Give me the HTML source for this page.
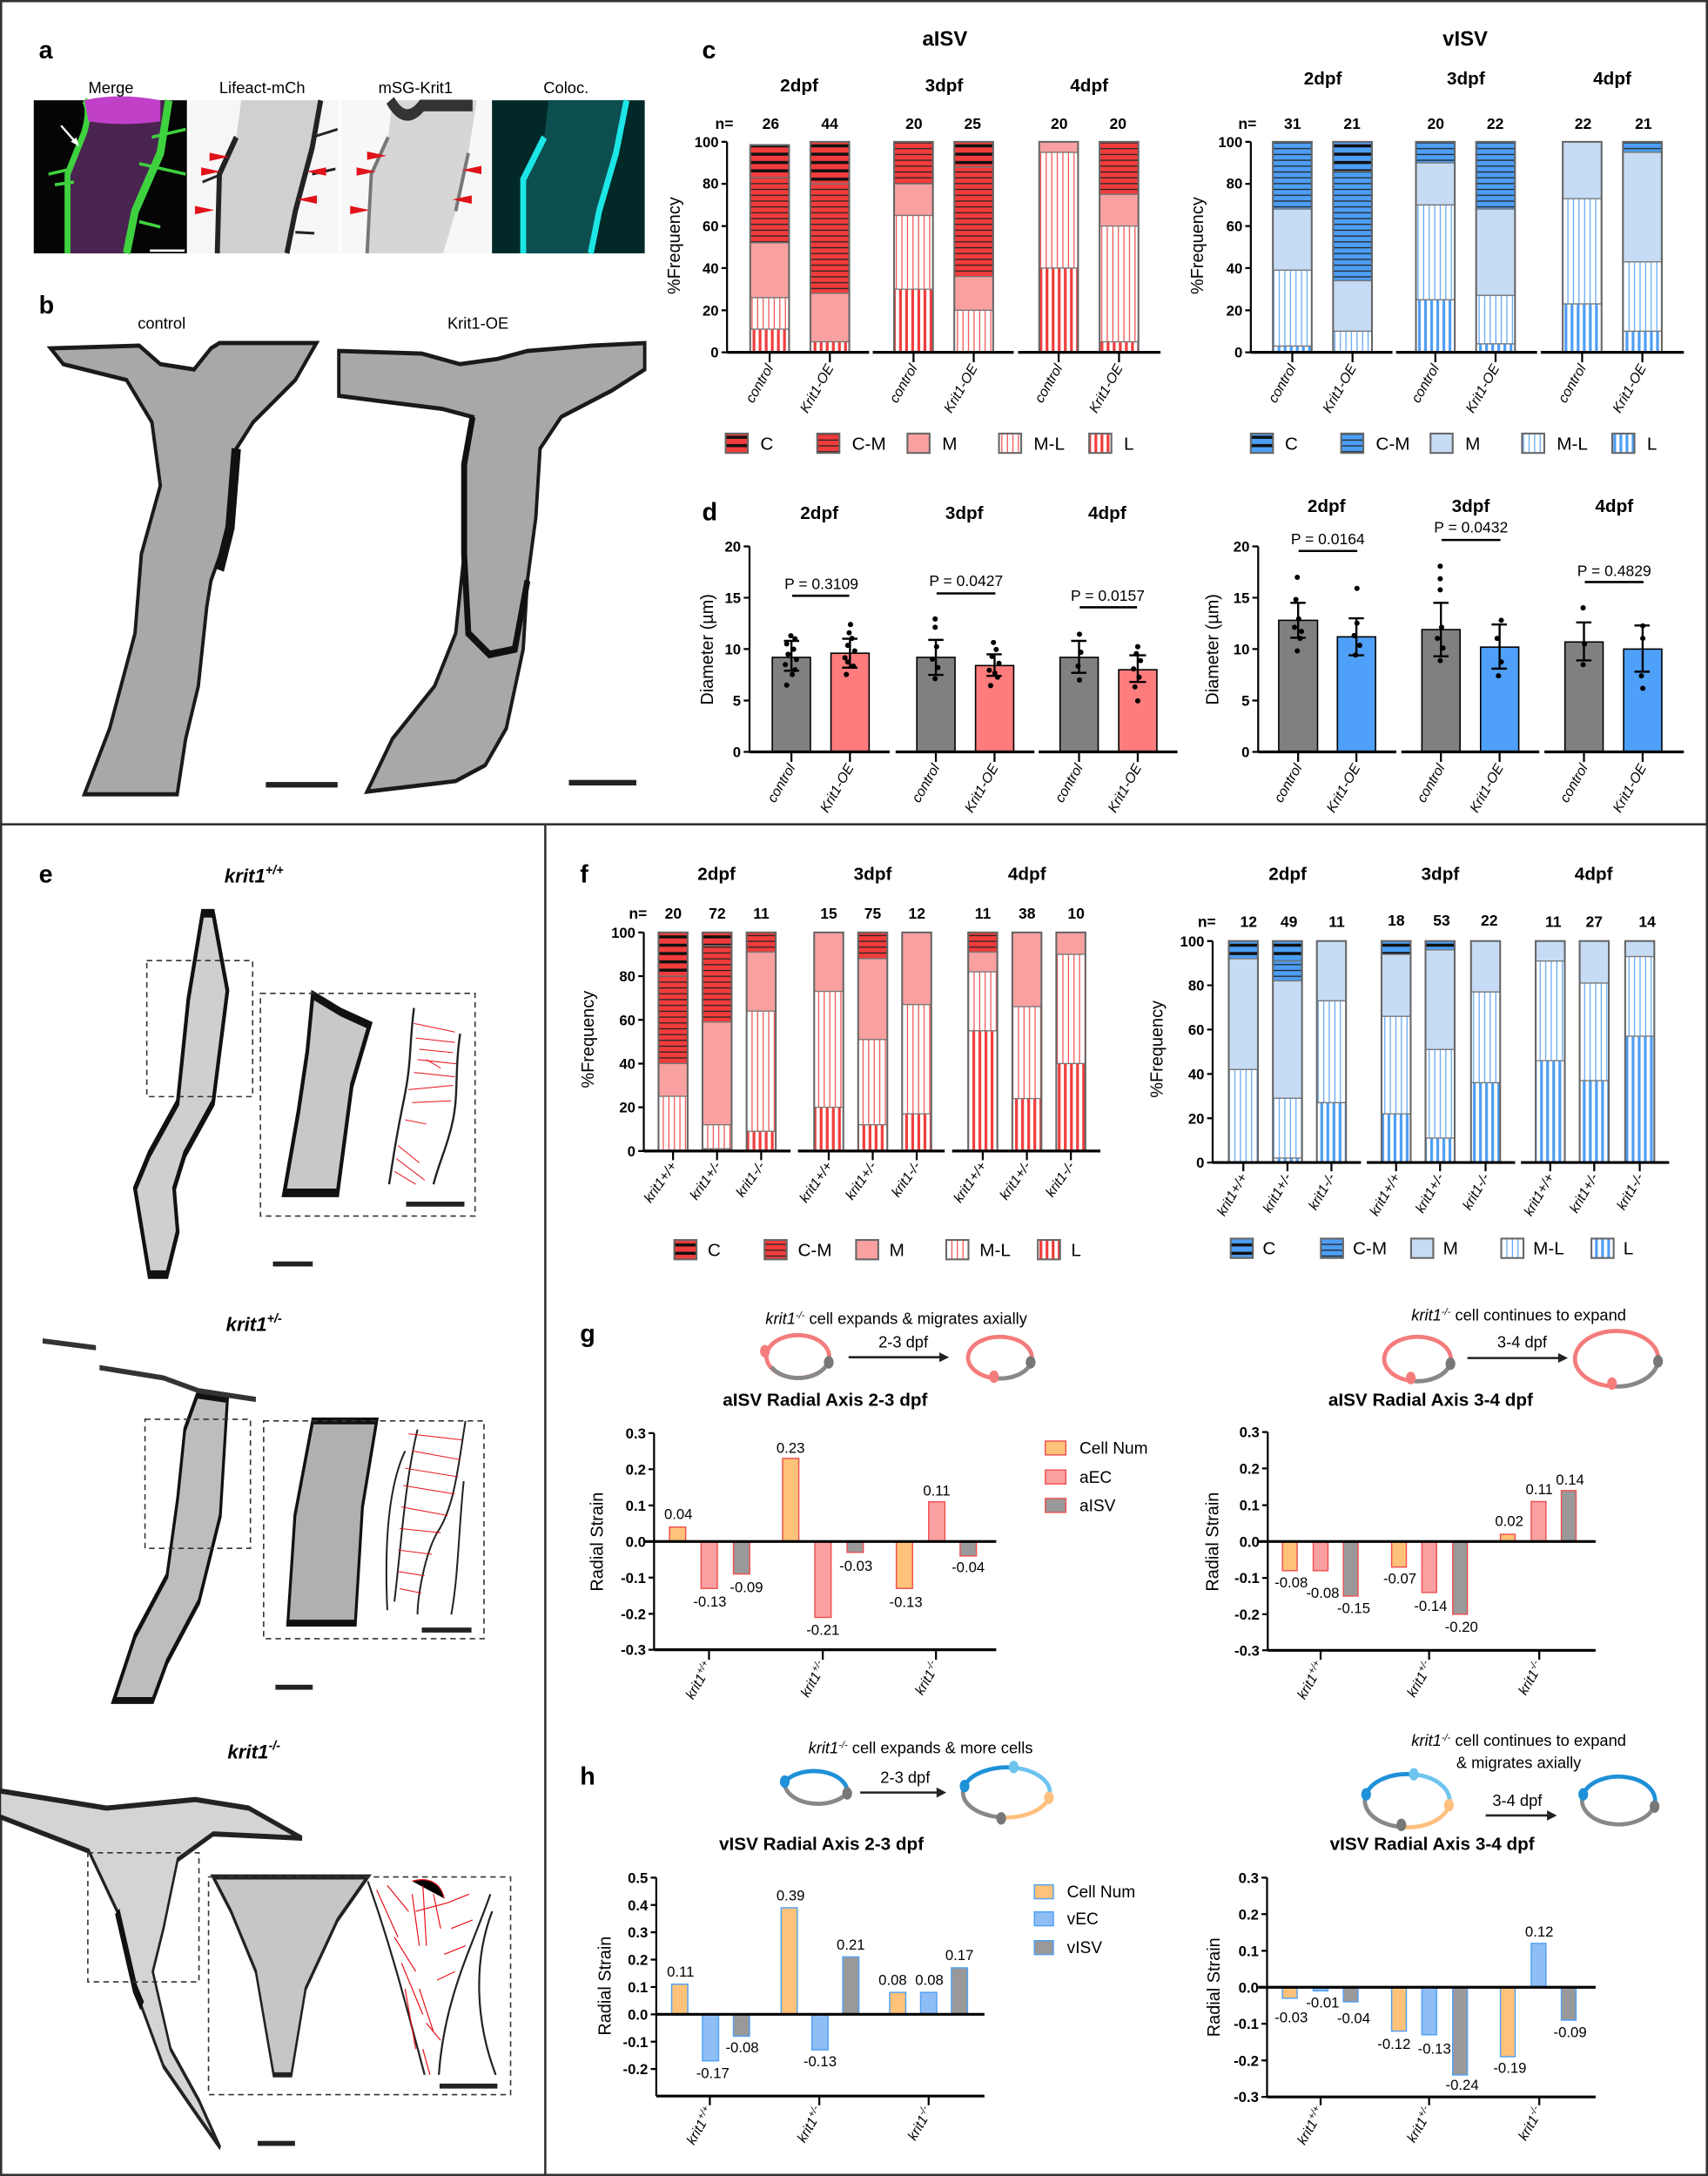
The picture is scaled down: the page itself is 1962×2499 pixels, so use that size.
<!DOCTYPE html>
<html><head><meta charset="utf-8"><style>html,body{margin:0;padding:0;background:#fff}svg{display:block}text{font-family:"Liberation Sans",Arial,sans-serif}</style></head><body>
<svg xmlns="http://www.w3.org/2000/svg" width="1962" height="2499" viewBox="0 0 1231 1568" preserveAspectRatio="none">
<defs>
<pattern id="rC" width="6" height="6" patternUnits="userSpaceOnUse"><rect width="6" height="6" fill="#f23c3c"/><rect y="2" width="6" height="2.2" fill="#111"/></pattern>
<pattern id="rCM" width="6" height="4.2" patternUnits="userSpaceOnUse"><rect width="6" height="4.2" fill="#f23c3c"/><rect y="1.7" width="6" height="0.8" fill="#222"/></pattern>
<pattern id="rML" width="4" height="6" patternUnits="userSpaceOnUse"><rect width="4" height="6" fill="#fff"/><rect x="1.7" width="0.7" height="6" fill="#f23c3c"/></pattern>
<pattern id="rL" width="4.4" height="6" patternUnits="userSpaceOnUse"><rect width="4.4" height="6" fill="#fff"/><rect x="1.2" width="2" height="6" fill="#f23c3c"/></pattern>
<pattern id="bC" width="6" height="6" patternUnits="userSpaceOnUse"><rect width="6" height="6" fill="#4d9ef5"/><rect y="2" width="6" height="2.2" fill="#111"/></pattern>
<pattern id="bCM" width="6" height="4.2" patternUnits="userSpaceOnUse"><rect width="6" height="4.2" fill="#4d9ef5"/><rect y="1.7" width="6" height="0.8" fill="#222"/></pattern>
<pattern id="bML" width="4" height="6" patternUnits="userSpaceOnUse"><rect width="4" height="6" fill="#fff"/><rect x="1.7" width="0.7" height="6" fill="#4d9ef5"/></pattern>
<pattern id="bL" width="4.4" height="6" patternUnits="userSpaceOnUse"><rect width="4.4" height="6" fill="#fff"/><rect x="1.2" width="2" height="6" fill="#4d9ef5"/></pattern>
</defs>
<rect width="1231" height="1568" fill="#fff"/>
<rect x="0.8" y="0.8" width="1229.4" height="1566.4" fill="none" stroke="#333" stroke-width="1.6"/>
<line x1="0" y1="594" x2="1231" y2="594" stroke="#333" stroke-width="1.6"/>
<line x1="393" y1="594" x2="393" y2="1568" stroke="#333" stroke-width="1.6"/>

<!-- panel a -->
<text x="28" y="42" font-size="18" font-weight="bold">a</text>
<g font-size="11.5" text-anchor="middle"><text x="80" y="67">Merge</text><text x="189" y="67">Lifeact-mCh</text><text x="299.5" y="67">mSG-Krit1</text><text x="408" y="67">Coloc.</text></g>
<g transform="scale(0.3041,0.3803)">
<rect x="80" y="190" width="363" height="290" fill="#050505"/>
<path d="M205,190 L200,250 L160,330 L160,480 L300,480 L320,400 L380,290 L400,190Z" fill="#4a2450"/>
<path d="M200,190 Q215,205 200,250 L160,330 L160,480" fill="none" stroke="#3fd23f" stroke-width="14"/>
<path d="M400,190 L380,290 L320,400 L300,480" fill="none" stroke="#3fd23f" stroke-width="18"/>
<path d="M200,190 Q280,175 380,190 L380,230 Q290,240 210,230Z" fill="#c040c8"/>
<path d="M115,330 L170,320 M130,350 L175,345 M330,310 L440,330 M330,420 L380,430 M360,260 L440,245" stroke="#3fd23f" stroke-width="6"/>
<rect x="447" y="190" width="356" height="290" fill="#f6f6f6"/>
<path d="M572,190 L560,260 L520,330 L515,480 L680,480 L700,400 L740,280 L760,190Z" fill="#d0d0d0"/>
<path d="M560,260 L520,330 L515,480 M760,190 L740,280 L700,400 L680,480" fill="none" stroke="#222" stroke-width="12"/>
<path d="M740,260 L800,245 M740,330 L795,320 M700,440 L745,442 M480,345 L525,330" stroke="#222" stroke-width="5"/>
<rect x="808" y="190" width="355" height="290" fill="#f7f7f7"/>
<path d="M930,190 L920,260 L880,330 L870,480 L1050,480 L1080,400 L1110,290 L1130,190Z" fill="#d6d6d6"/>
<path d="M925,190 Q960,240 1000,200 L1120,200" fill="none" stroke="#333" stroke-width="22"/>
<path d="M920,260 L880,330 L870,480 M1110,290 L1080,400" fill="none" stroke="#777" stroke-width="8"/>
<rect x="1166" y="190" width="362" height="290" fill="#032828"/>
<path d="M1300,190 L1290,260 L1240,340 L1240,480 L1400,480 L1420,400 L1460,290 L1485,190Z" fill="#0d4f50"/>
<path d="M1290,260 L1240,340 L1240,480 M1485,190 L1460,290 L1420,400 L1400,480" fill="none" stroke="#1de6e6" stroke-width="14"/>
</g>
<line x1="108" y1="180.6" x2="133" y2="180.6" stroke="#fff" stroke-width="1.6"/>
<line x1="44" y1="90.5" x2="55" y2="103" stroke="#fff" stroke-width="1.5"/><polygon points="57,105.5 51,102 55,99" fill="#fff"/>
<g fill="#e0121a">
<polygon points="151,110 165,113 151,116"/><polygon points="145,120.6 159,123.6 145,126.6"/><polygon points="140.5,148.4 154.5,151.4 140.5,154.4"/>
<polygon points="235,120.6 221,123.6 235,126.6"/><polygon points="228.4,140.8 214.4,143.8 228.4,146.8"/>
<polygon points="264.6,109.2 278.6,112.2 264.6,115.2"/><polygon points="257,120.6 271,123.6 257,126.6"/><polygon points="252.4,148.4 266.4,151.4 252.4,154.4"/>
<polygon points="347,119.5 333,122.5 347,125.5"/><polygon points="340,140.8 326,143.8 340,146.8"/>
</g>

<!-- panel b -->
<text x="28" y="226" font-size="18" font-weight="bold">b</text>
<text x="116.5" y="237" font-size="11.5" text-anchor="middle">control</text>
<text x="344.5" y="237" font-size="11.5" text-anchor="middle">Krit1-OE</text>
<g transform="scale(0.3041,0.3803)">
<path d="M120,660 L330,655 L380,690 L460,700 L500,660 L520,650 L750,650 L700,720 L600,800 L560,850 L545,1000 L500,1100 L490,1150 L470,1300 L440,1400 L420,1505 L200,1505 L260,1380 L320,1200 L335,1050 L380,920 L360,800 L300,720 L150,690Z" fill="#a8a8a8" stroke="#1a1a1a" stroke-width="8"/>
<path d="M560,850 L545,1000 L520,1080" fill="none" stroke="#111" stroke-width="22"/>
<path d="M803,665 L1000,670 L1090,690 L1180,680 L1250,665 L1400,655 L1528,650 L1528,700 L1450,740 L1330,790 L1280,850 L1270,980 L1250,1100 L1240,1230 L1200,1380 L1150,1450 L1080,1480 L870,1500 L930,1400 L1030,1300 L1080,1200 L1100,1050 L1100,880 L1120,790 L1050,775 L900,760 L803,750Z" fill="#a8a8a8" stroke="#1a1a1a" stroke-width="8"/>
<path d="M1120,790 L1100,880 L1100,1050 L1110,1200 L1160,1240 L1220,1230 L1250,1100" fill="none" stroke="#111" stroke-width="14"/>
</g>
<rect x="191.6" y="563.5" width="51.7" height="4" fill="#222"/>
<rect x="410" y="562" width="48.6" height="4" fill="#222"/>

<!-- panel c -->
<text x="506" y="42" font-size="18" font-weight="bold">c</text>
<text x="681" y="33" font-size="15" font-weight="bold" text-anchor="middle">aISV</text>
<text x="1056" y="33" font-size="15" font-weight="bold" text-anchor="middle">vISV</text>
<g font-size="13" font-weight="bold" text-anchor="middle">
<text x="576" y="66">2dpf</text><text x="680.4" y="66">3dpf</text><text x="785" y="66">4dpf</text>
<text x="953.4" y="61">2dpf</text><text x="1056.5" y="61">3dpf</text><text x="1162" y="61">4dpf</text>
</g>
<g font-size="11" font-weight="bold" text-anchor="middle">
<text x="522" y="93">n=</text><text x="555.5" y="93">26</text><text x="598" y="93">44</text><text x="658.7" y="93">20</text><text x="701" y="93">25</text><text x="763.4" y="93">20</text><text x="805.8" y="93">20</text>
<text x="899" y="93">n=</text><text x="931.6" y="93">31</text><text x="974.5" y="93">21</text><text x="1034.8" y="93">20</text><text x="1077.7" y="93">22</text><text x="1141" y="93">22</text><text x="1184.5" y="93">21</text>
</g>
<g stroke="#777" stroke-width="0.8">
<rect x="540.7" y="104.5" width="28" height="23.5" fill="url(#rC)"/><rect x="540.7" y="128" width="28" height="47" fill="url(#rCM)"/><rect x="540.7" y="175" width="28" height="39.5" fill="#f9a0a0"/><rect x="540.7" y="214.5" width="28" height="22.7" fill="url(#rML)"/><rect x="540.7" y="237.2" width="28" height="16.7" fill="url(#rL)"/>
<rect x="584.1" y="102.2" width="28" height="30.3" fill="url(#rC)"/><rect x="584.1" y="132.5" width="28" height="78.9" fill="url(#rCM)"/><rect x="584.1" y="211.4" width="28" height="34.9" fill="#f9a0a0"/><rect x="584.1" y="246.3" width="28" height="7.6" fill="url(#rL)"/>
<rect x="644.4" y="102.2" width="28" height="30.3" fill="url(#rCM)"/><rect x="644.4" y="132.5" width="28" height="22.8" fill="#f9a0a0"/><rect x="644.4" y="155.3" width="28" height="53.1" fill="url(#rML)"/><rect x="644.4" y="208.4" width="28" height="45.5" fill="url(#rL)"/>
<rect x="687.8" y="102.2" width="28" height="18.2" fill="url(#rC)"/><rect x="687.8" y="120.4" width="28" height="78.9" fill="url(#rCM)"/><rect x="687.8" y="199.3" width="28" height="24.3" fill="#f9a0a0"/><rect x="687.8" y="223.6" width="28" height="30.3" fill="url(#rML)"/>
<rect x="749" y="102.2" width="28" height="7.6" fill="#f9a0a0"/><rect x="749" y="109.8" width="28" height="83.4" fill="url(#rML)"/><rect x="749" y="193.2" width="28" height="60.7" fill="url(#rL)"/>
<rect x="792.5" y="102.2" width="28" height="37.9" fill="url(#rCM)"/><rect x="792.5" y="140.1" width="28" height="22.8" fill="#f9a0a0"/><rect x="792.5" y="162.9" width="28" height="83.4" fill="url(#rML)"/><rect x="792.5" y="246.3" width="28" height="7.6" fill="url(#rL)"/>
<rect x="917.4" y="102.2" width="28" height="48.5" fill="url(#bCM)"/><rect x="917.4" y="150.7" width="28" height="44" fill="#c6dbf4"/><rect x="917.4" y="194.7" width="28" height="54.7" fill="url(#bML)"/><rect x="917.4" y="249.4" width="28" height="4.5" fill="url(#bL)"/>
<rect x="960.8" y="102.2" width="28" height="21.2" fill="url(#bC)"/><rect x="960.8" y="123.4" width="28" height="78.9" fill="url(#bCM)"/><rect x="960.8" y="202.3" width="28" height="36.4" fill="#c6dbf4"/><rect x="960.8" y="238.7" width="28" height="15.2" fill="url(#bML)"/>
<rect x="1020.5" y="102.2" width="28" height="15.2" fill="url(#bCM)"/><rect x="1020.5" y="117.4" width="28" height="30.3" fill="#c6dbf4"/><rect x="1020.5" y="147.7" width="28" height="68.3" fill="url(#bML)"/><rect x="1020.5" y="216" width="28" height="37.9" fill="url(#bL)"/>
<rect x="1063.9" y="102.2" width="28" height="48.5" fill="url(#bCM)"/><rect x="1063.9" y="150.7" width="28" height="62.2" fill="#c6dbf4"/><rect x="1063.9" y="212.9" width="28" height="34.9" fill="url(#bML)"/><rect x="1063.9" y="247.8" width="28" height="6.1" fill="url(#bL)"/>
<rect x="1126.3" y="102.2" width="28" height="41" fill="#c6dbf4"/><rect x="1126.3" y="143.2" width="28" height="75.8" fill="url(#bML)"/><rect x="1126.3" y="219" width="28" height="34.9" fill="url(#bL)"/>
<rect x="1169.7" y="102.2" width="28" height="7.6" fill="url(#bCM)"/><rect x="1169.7" y="109.8" width="28" height="78.9" fill="#c6dbf4"/><rect x="1169.7" y="188.7" width="28" height="50" fill="url(#bML)"/><rect x="1169.7" y="238.7" width="28" height="15.2" fill="url(#bL)"/>
</g>
<g fill="none" stroke="#666" stroke-width="1.3">
<rect x="540.7" y="104.5" width="28" height="149.4"/><rect x="584.1" y="102.2" width="28" height="151.7"/><rect x="644.4" y="102.2" width="28" height="151.7"/><rect x="687.8" y="102.2" width="28" height="151.7"/><rect x="749" y="102.2" width="28" height="151.7"/><rect x="792.5" y="102.2" width="28" height="151.7"/>
<rect x="917.4" y="102.2" width="28" height="151.7"/><rect x="960.8" y="102.2" width="28" height="151.7"/><rect x="1020.5" y="102.2" width="28" height="151.7"/><rect x="1063.9" y="102.2" width="28" height="151.7"/><rect x="1126.3" y="102.2" width="28" height="151.7"/><rect x="1169.7" y="102.2" width="28" height="151.7"/>
</g>
<g stroke="#000" stroke-width="1.4" fill="none">
<path d="M524,102.2V253.9 M520,102.2H524 M520,132.5H524 M520,162.9H524 M520,193.2H524 M520,223.6H524 M520,253.9H524"/>
<path d="M901.5,102.2V253.9 M897.5,102.2H901.5 M897.5,132.5H901.5 M897.5,162.9H901.5 M897.5,193.2H901.5 M897.5,223.6H901.5 M897.5,253.9H901.5"/>
<path stroke-width="2" d="M524,253.9H626.4 M629,253.9H730.6 M733.8,253.9H836.4 M901.5,253.9H1003.6 M1006.2,253.9H1107.8 M1110.5,253.9H1213.6"/>
<path d="M554.7,254V261 M598.1,254V261 M658.4,254V261 M701.8,254V261 M763,254V261 M806.5,254V261 M931.4,254V261 M974.8,254V261 M1034.5,254V261 M1077.9,254V261 M1140.3,254V261 M1183.7,254V261"/>
</g>
<g font-size="10.5" font-weight="bold" text-anchor="end">
<text x="518" y="106">100</text><text x="518" y="136">80</text><text x="518" y="166.5">60</text><text x="518" y="197">40</text><text x="518" y="227.5">20</text><text x="518" y="257.5">0</text>
<text x="895.5" y="106">100</text><text x="895.5" y="136">80</text><text x="895.5" y="166.5">60</text><text x="895.5" y="197">40</text><text x="895.5" y="227.5">20</text><text x="895.5" y="257.5">0</text>
</g>
<text transform="translate(490,177) rotate(-90)" font-size="12.5" text-anchor="middle">%Frequency</text>
<text transform="translate(867,177) rotate(-90)" font-size="12.5" text-anchor="middle">%Frequency</text>
<g font-size="10" font-style="italic" text-anchor="end">
<text transform="translate(557.7,265) rotate(-60)">control</text><text transform="translate(601.1,265) rotate(-60)">Krit1-OE</text>
<text transform="translate(661.4,265) rotate(-60)">control</text><text transform="translate(704.8,265) rotate(-60)">Krit1-OE</text>
<text transform="translate(766,265) rotate(-60)">control</text><text transform="translate(809.5,265) rotate(-60)">Krit1-OE</text>
<text transform="translate(934.4,265) rotate(-60)">control</text><text transform="translate(977.8,265) rotate(-60)">Krit1-OE</text>
<text transform="translate(1037.5,265) rotate(-60)">control</text><text transform="translate(1080.9,265) rotate(-60)">Krit1-OE</text>
<text transform="translate(1143.3,265) rotate(-60)">control</text><text transform="translate(1186.7,265) rotate(-60)">Krit1-OE</text>
</g>
<g stroke="#666" stroke-width="1.3">
<rect x="523" y="312.4" width="16" height="14" fill="url(#rC)"/><rect x="589" y="312.4" width="16" height="14" fill="url(#rCM)"/><rect x="654" y="312.4" width="16" height="14" fill="#f9a0a0"/><rect x="720" y="312.4" width="16" height="14" fill="url(#rML)"/><rect x="785" y="312.4" width="16" height="14" fill="url(#rL)"/>
<rect x="901.5" y="312.4" width="16" height="14" fill="url(#bC)"/><rect x="966.6" y="312.4" width="16" height="14" fill="url(#bCM)"/><rect x="1031" y="312.4" width="16" height="14" fill="#c6dbf4"/><rect x="1097" y="312.4" width="16" height="14" fill="url(#bML)"/><rect x="1162" y="312.4" width="16" height="14" fill="url(#bL)"/>
</g>
<g font-size="13">
<text x="548" y="324">C</text><text x="614" y="324">C-M</text><text x="679" y="324">M</text><text x="745" y="324">M-L</text><text x="810" y="324">L</text>
<text x="926" y="324">C</text><text x="991.6" y="324">C-M</text><text x="1056" y="324">M</text><text x="1122" y="324">M-L</text><text x="1187" y="324">L</text>
</g>

<!-- panel d -->
<text x="506" y="375" font-size="18" font-weight="bold">d</text>
<g font-size="13" font-weight="bold" text-anchor="middle">
<text x="590.5" y="374">2dpf</text><text x="695" y="374">3dpf</text><text x="798" y="374">4dpf</text>
<text x="956" y="369">2dpf</text><text x="1060" y="369">3dpf</text><text x="1163.4" y="369">4dpf</text>
</g>
<g font-size="11" text-anchor="middle">
<text x="592" y="424.5">P = 0.3109</text><text x="696.3" y="422.4">P = 0.0427</text><text x="798.4" y="432.9">P = 0.0157</text>
<text x="957" y="392.1">P = 0.0164</text><text x="1060.2" y="383.7">P = 0.0432</text><text x="1163.4" y="415.1">P = 0.4829</text>
</g>
<g stroke="#000" stroke-width="1.6">
<line x1="570.9" y1="429.3" x2="612.1" y2="429.3"/><line x1="675" y1="427.6" x2="717.4" y2="427.6"/><line x1="778.2" y1="437.6" x2="819.5" y2="437.6"/>
<line x1="935.9" y1="397" x2="978.2" y2="397"/><line x1="1039" y1="389.1" x2="1081.4" y2="389.1"/><line x1="1142.2" y1="419.4" x2="1184.5" y2="419.4"/>
</g>
<g stroke="#000" stroke-width="1">
<rect x="556.6" y="473.7" width="27.5" height="68.1" fill="#808080"/><rect x="598.9" y="470.7" width="27.5" height="71.1" fill="#ff7c7c"/>
<rect x="660.8" y="473.7" width="27.5" height="68.1" fill="#808080"/><rect x="703.1" y="479.6" width="27.5" height="62.2" fill="#ff7c7c"/>
<rect x="764" y="473.7" width="27.5" height="68.1" fill="#808080"/><rect x="806.3" y="482.6" width="27.5" height="59.2" fill="#ff7c7c"/>
<rect x="921.6" y="447" width="28" height="94.8" fill="#808080"/><rect x="963.9" y="458.9" width="27.5" height="82.9" fill="#4fa0f8"/>
<rect x="1024.8" y="453.7" width="27.5" height="88.1" fill="#808080"/><rect x="1067.1" y="466.3" width="27.5" height="75.5" fill="#4fa0f8"/>
<rect x="1127.9" y="462.6" width="27.5" height="79.2" fill="#808080"/><rect x="1170.2" y="467.7" width="27.5" height="74.1" fill="#4fa0f8"/>
</g>
<g fill="#000">
<circle cx="567" cy="493.7" r="1.9"/><circle cx="573" cy="482.6" r="1.9"/><circle cx="566" cy="478.9" r="1.9"/><circle cx="574" cy="475.2" r="1.9"/><circle cx="568" cy="471.5" r="1.9"/><circle cx="572" cy="467.8" r="1.9"/><circle cx="567" cy="464" r="1.9"/><circle cx="573" cy="460.3" r="1.9"/><circle cx="570" cy="458.1" r="1.9"/><circle cx="571" cy="486" r="1.9"/>
<circle cx="610" cy="486" r="1.9"/><circle cx="615" cy="480" r="1.9"/><circle cx="609" cy="474" r="1.9"/><circle cx="616" cy="469" r="1.9"/><circle cx="611" cy="465" r="1.9"/><circle cx="614" cy="460" r="1.9"/><circle cx="612" cy="456" r="1.9"/><circle cx="613" cy="450" r="1.9"/><circle cx="611" cy="477" r="1.9"/>
<circle cx="674" cy="489" r="1.9"/><circle cx="676" cy="481" r="1.9"/><circle cx="672" cy="475" r="1.9"/><circle cx="675" cy="466" r="1.9"/><circle cx="674" cy="452" r="1.9"/><circle cx="674" cy="446" r="1.9"/>
<circle cx="714" cy="494" r="1.9"/><circle cx="719" cy="488" r="1.9"/><circle cx="713" cy="483" r="1.9"/><circle cx="720" cy="478" r="1.9"/><circle cx="715" cy="473" r="1.9"/><circle cx="718" cy="468" r="1.9"/><circle cx="716" cy="463" r="1.9"/><circle cx="717" cy="485" r="1.9"/>
<circle cx="778" cy="490" r="1.9"/><circle cx="777" cy="480" r="1.9"/><circle cx="779" cy="470" r="1.9"/><circle cx="778" cy="457" r="1.9"/>
<circle cx="820" cy="505" r="1.9"/><circle cx="818" cy="495" r="1.9"/><circle cx="821" cy="488" r="1.9"/><circle cx="817" cy="482" r="1.9"/><circle cx="822" cy="476" r="1.9"/><circle cx="819" cy="471" r="1.9"/><circle cx="820" cy="466" r="1.9"/>
<circle cx="935" cy="469" r="1.9"/><circle cx="937" cy="460" r="1.9"/><circle cx="933" cy="452" r="1.9"/><circle cx="936" cy="446" r="1.9"/><circle cx="934" cy="432" r="1.9"/><circle cx="935" cy="416" r="1.9"/><circle cx="938" cy="455" r="1.9"/>
<circle cx="977" cy="472" r="1.9"/><circle cx="980" cy="465" r="1.9"/><circle cx="976" cy="458" r="1.9"/><circle cx="978" cy="449" r="1.9"/><circle cx="978" cy="424" r="1.9"/>
<circle cx="1038" cy="476" r="1.9"/><circle cx="1040" cy="467" r="1.9"/><circle cx="1036" cy="460" r="1.9"/><circle cx="1039" cy="452" r="1.9"/><circle cx="1038" cy="425" r="1.9"/><circle cx="1038" cy="417" r="1.9"/><circle cx="1038" cy="408" r="1.9"/>
<circle cx="1080" cy="487" r="1.9"/><circle cx="1082" cy="477" r="1.9"/><circle cx="1079" cy="460" r="1.9"/><circle cx="1082" cy="447" r="1.9"/>
<circle cx="1141" cy="479" r="1.9"/><circle cx="1142" cy="464" r="1.9"/><circle cx="1141" cy="438" r="1.9"/>
<circle cx="1184" cy="496" r="1.9"/><circle cx="1183" cy="487" r="1.9"/><circle cx="1184" cy="460" r="1.9"/><circle cx="1184" cy="451" r="1.9"/>
</g>
<g stroke="#000" stroke-width="1.5" fill="none">
<path d="M570.4,483.3V461.8 M565,483.3H576 M565,461.8H576"/><path d="M612.6,481.1V460.3 M607,481.1H618 M607,460.3H618"/>
<path d="M674.5,486.3V461.1 M669,486.3H680 M669,461.1H680"/><path d="M716.8,487V471.5 M711,487H722 M711,471.5H722"/>
<path d="M777.7,484.8V461.8 M772,484.8H783 M772,461.8H783"/><path d="M820,491.4V472.2 M814,491.4H826 M814,472.2H826"/>
<path d="M935.6,459.6V434.4 M930,459.6H941 M930,434.4H941"/><path d="M977.6,472.2V445.5 M972,472.2H983 M972,445.5H983"/>
<path d="M1038.5,472.9V434.4 M1033,472.9H1044 M1033,434.4H1044"/><path d="M1080.8,481.8V450 M1075,481.8H1086 M1075,450H1086"/>
<path d="M1141.6,475.9V448.5 M1136,475.9H1147 M1136,448.5H1147"/><path d="M1183.9,484V450.7 M1178,484H1189 M1178,450.7H1189"/>
</g>
<g stroke="#000" stroke-width="1.4" fill="none">
<path d="M540.2,393.7V541.8 M536,393.7H540.2 M536,430.7H540.2 M536,467.7H540.2 M536,504.8H540.2 M536,541.8H540.2"/>
<path d="M906.8,393.7V541.8 M902.6,393.7H906.8 M902.6,430.7H906.8 M902.6,467.7H906.8 M902.6,504.8H906.8 M902.6,541.8H906.8"/>
<path stroke-width="2" d="M540.2,541.8H641.2 M645.5,541.8H745.5 M748.6,541.8H848.6 M906.8,541.8H1006.3 M1010,541.8H1109.4 M1113.1,541.8H1213.6"/>
<path d="M570.4,542V549 M612.6,542V549 M674.5,542V549 M716.8,542V549 M777.7,542V549 M820,542V549 M935.6,542V549 M977.6,542V549 M1038.5,542V549 M1080.8,542V549 M1141.6,542V549 M1183.9,542V549"/>
</g>
<g font-size="10.5" font-weight="bold" text-anchor="end">
<text x="534" y="397.5">20</text><text x="534" y="434.5">15</text><text x="534" y="471.5">10</text><text x="534" y="508.6">5</text><text x="534" y="545.6">0</text>
<text x="900.6" y="397.5">20</text><text x="900.6" y="434.5">15</text><text x="900.6" y="471.5">10</text><text x="900.6" y="508.6">5</text><text x="900.6" y="545.6">0</text>
</g>
<text transform="translate(514,468) rotate(-90)" font-size="12.5" text-anchor="middle">Diameter (µm)</text>
<text transform="translate(878,468) rotate(-90)" font-size="12.5" text-anchor="middle">Diameter (µm)</text>
<g font-size="10" font-style="italic" text-anchor="end">
<text transform="translate(573.4,553) rotate(-60)">control</text><text transform="translate(615.6,553) rotate(-60)">Krit1-OE</text>
<text transform="translate(677.5,553) rotate(-60)">control</text><text transform="translate(719.8,553) rotate(-60)">Krit1-OE</text>
<text transform="translate(780.7,553) rotate(-60)">control</text><text transform="translate(823,553) rotate(-60)">Krit1-OE</text>
<text transform="translate(938.6,553) rotate(-60)">control</text><text transform="translate(980.6,553) rotate(-60)">Krit1-OE</text>
<text transform="translate(1041.5,553) rotate(-60)">control</text><text transform="translate(1083.8,553) rotate(-60)">Krit1-OE</text>
<text transform="translate(1144.6,553) rotate(-60)">control</text><text transform="translate(1186.9,553) rotate(-60)">Krit1-OE</text>
</g>

<!-- panel e -->
<text x="28" y="636" font-size="18" font-weight="bold">e</text>
<g font-size="14" font-weight="bold" font-style="italic" text-anchor="middle">
<text x="183" y="636">krit1<tspan font-size="9" dy="-6">+/+</tspan></text>
<text x="183" y="959">krit1<tspan font-size="9" dy="-6">+/-</tspan></text>
<text x="183" y="1267">krit1<tspan font-size="9" dy="-6">-/-</tspan></text>
</g>
<g transform="translate(0,596.1) scale(0.2561,0.62)">
<path d="M570,100 L600,100 L640,190 L600,320 L520,380 L490,420 L500,470 L470,520 L420,520 L380,420 L420,380 L500,320 L530,200Z" fill="#cfcfcf" stroke="#111" stroke-width="10"/>
<path d="M880,195 L960,215 L1040,230 L990,300 L950,425 L800,425 L840,330 L865,260Z" fill="#c8c8c8" stroke="#111" stroke-width="10"/>
<g fill="none" stroke="#222" stroke-width="2.4" vector-effect="non-scaling-stroke">
<path d="M1165,210 C1150,260 1160,270 1135,320 C1110,370 1105,390 1095,415" vector-effect="non-scaling-stroke"/>
<path d="M1295,240 C1280,280 1290,310 1275,340 C1260,370 1235,390 1220,415" vector-effect="non-scaling-stroke"/>
</g>
<g stroke="#e8101a" stroke-width="1" vector-effect="non-scaling-stroke">
<path d="M1165,228 L1280,238 M1170,245 L1280,250 M1180,258 L1275,262 M1175,270 L1285,275 M1165,285 L1280,290 M1150,305 L1275,300 M1160,320 L1270,318 M1140,340 L1200,345 M1120,370 L1180,390 M1115,385 L1195,410 M1110,400 L1170,415 M1200,270 L1240,280" vector-effect="non-scaling-stroke"/>
</g>
<path d="M555,660 L640,665 L620,800 L560,900 L470,970 L430,1015 L320,1015 L380,940 L470,870 L500,780 L520,700Z" fill="#bdbdbd" stroke="#111" stroke-width="8"/>
<path d="M120,597 L270,605 M280,628 L460,640 L560,655 L720,665" fill="none" stroke="#333" stroke-width="6"/>
<path d="M880,690 L1060,690 L1020,790 L1000,925 L810,925 L830,800Z" fill="#b0b0b0" stroke="#111" stroke-width="8"/>
<g fill="none" stroke="#222" stroke-width="2" >
<path d="M1140,725 C1100,760 1080,820 1090,910" vector-effect="non-scaling-stroke"/>
<path d="M1310,690 C1290,740 1280,790 1230,820 C1190,850 1175,900 1175,915" vector-effect="non-scaling-stroke"/>
<path d="M1305,760 C1290,820 1290,870 1270,915" vector-effect="non-scaling-stroke"/>
<path d="M1175,700 C1140,760 1130,830 1110,900" vector-effect="non-scaling-stroke"/>
</g>
<path d="M1150,705 L1300,712 M1160,725 L1295,735 M1140,745 L1290,755 M1135,765 L1280,775 M1130,790 L1260,800 M1125,815 L1240,820 M1120,840 L1215,845 M1120,865 L1195,870 M1125,885 L1185,890" stroke="#e8101a" stroke-width="1" vector-effect="non-scaling-stroke"/>
<path d="M0,1120 L300,1140 L550,1130 L700,1140 L850,1175 L600,1170 L500,1200 L460,1280 L430,1330 L480,1420 L560,1480 L620,1535 L560,1500 L460,1440 L380,1350 L330,1260 L250,1190 L0,1150Z" fill="#d4d4d4" stroke="#222" stroke-width="6"/>
<path d="M330,1260 L380,1350 L400,1370" fill="none" stroke="#111" stroke-width="14"/>
<path d="M600,1220 L1035,1220 L950,1270 L860,1350 L820,1450 L770,1450 L720,1330 L650,1260Z" fill="#c6c6c6" stroke="#222" stroke-width="6"/>
<g fill="none" stroke="#222" stroke-width="2.2">
<path d="M1035,1225 C1100,1300 1150,1380 1195,1450" vector-effect="non-scaling-stroke"/>
<path d="M1380,1240 C1330,1300 1250,1360 1235,1450" vector-effect="non-scaling-stroke"/>
<path d="M1385,1260 C1330,1320 1340,1390 1395,1450" vector-effect="non-scaling-stroke"/>
</g>
<path d="M1060,1235 L1120,1290 M1090,1230 L1150,1260 M1110,1290 L1170,1330 M1130,1320 L1190,1380 M1160,1240 L1180,1300 M1190,1230 L1200,1300 M1220,1240 L1240,1280 M1260,1250 L1320,1240 M1270,1280 L1330,1270 M1250,1310 L1310,1300 M1230,1340 L1280,1330 M1180,1350 L1220,1400 M1200,1390 L1240,1410 M1190,1420 L1210,1450 M1160,1225 C1200,1220 1240,1225 1250,1245 M1170,1260 L1260,1250 M1140,1350 L1170,1420" stroke="#e8101a" stroke-width="1.2" vector-effect="non-scaling-stroke"/>
</g>
<g fill="none" stroke="#333" stroke-width="1" stroke-dasharray="4,3">
<rect x="105.8" y="692.2" width="76.3" height="98"/><rect x="187.7" y="715.8" width="154.7" height="160.5"/>
<rect x="104.5" y="1022.7" width="76" height="93"/><rect x="190" y="1023.9" width="158.8" height="156.9"/>
<rect x="63.3" y="1335.1" width="80.1" height="93"/><rect x="150.3" y="1352.5" width="217.7" height="156.9"/>
</g>
<g fill="#222">
<rect x="196.7" y="909" width="28.7" height="3.6"/><rect x="292.7" y="865.9" width="42" height="3.6"/>
<rect x="198.5" y="1214" width="26.9" height="3.6"/><rect x="304" y="1172.8" width="35.8" height="3.6"/>
<rect x="185.7" y="1542.7" width="26.9" height="3.6"/><rect x="316.8" y="1501.4" width="41.7" height="3.6"/>
</g>

<!-- panel f -->
<text x="418" y="636" font-size="18" font-weight="bold">f</text>
<g font-size="13" font-weight="bold" text-anchor="middle">
<text x="516.4" y="634">2dpf</text><text x="629" y="634">3dpf</text><text x="740.2" y="634">4dpf</text>
<text x="928" y="634">2dpf</text><text x="1038" y="634">3dpf</text><text x="1148.6" y="634">4dpf</text>
</g>
<g font-size="11" font-weight="bold" text-anchor="middle">
<text x="459.8" y="662">n=</text><text x="485.2" y="662">20</text><text x="516.9" y="662">72</text><text x="548.7" y="662">11</text><text x="597.3" y="662">15</text><text x="629" y="662">75</text><text x="660.8" y="662">12</text><text x="708.4" y="662">11</text><text x="740.2" y="662">38</text><text x="775.6" y="662">10</text>
<text x="869.8" y="668">n=</text><text x="899.9" y="668">12</text><text x="929" y="668">49</text><text x="963.4" y="668">11</text><text x="1006.3" y="667">18</text><text x="1039" y="667">53</text><text x="1073.4" y="667">22</text><text x="1119.5" y="668">11</text><text x="1149" y="668">27</text><text x="1187.2" y="668">14</text>
</g>
<g stroke="#777" stroke-width="0.8">
<rect x="474.6" y="671.9" width="21" height="31.5" fill="url(#rC)"/><rect x="474.6" y="703.4" width="21" height="63" fill="url(#rCM)"/><rect x="474.6" y="766.4" width="21" height="23.6" fill="#f9a0a0"/><rect x="474.6" y="790" width="21" height="39.4" fill="url(#rML)"/>
<rect x="506.3" y="671.9" width="21" height="9.5" fill="url(#rC)"/><rect x="506.3" y="681.4" width="21" height="55.1" fill="url(#rCM)"/><rect x="506.3" y="736.5" width="21" height="74" fill="#f9a0a0"/><rect x="506.3" y="810.5" width="21" height="17.3" fill="url(#rML)"/><rect x="506.3" y="827.8" width="21" height="1.6" fill="url(#rL)"/>
<rect x="538.1" y="671.9" width="21" height="14.2" fill="url(#rCM)"/><rect x="538.1" y="686.1" width="21" height="42.5" fill="#f9a0a0"/><rect x="538.1" y="728.6" width="21" height="86.6" fill="url(#rML)"/><rect x="538.1" y="815.2" width="21" height="14.2" fill="url(#rL)"/>
<rect x="586.8" y="671.9" width="21" height="42.5" fill="#f9a0a0"/><rect x="586.8" y="714.4" width="21" height="83.5" fill="url(#rML)"/><rect x="586.8" y="797.9" width="21" height="31.5" fill="url(#rL)"/>
<rect x="618.5" y="671.9" width="21" height="18.9" fill="url(#rCM)"/><rect x="618.5" y="690.8" width="21" height="58.3" fill="#f9a0a0"/><rect x="618.5" y="749.1" width="21" height="61.4" fill="url(#rML)"/><rect x="618.5" y="810.5" width="21" height="18.9" fill="url(#rL)"/>
<rect x="650.2" y="671.9" width="21" height="52" fill="#f9a0a0"/><rect x="650.2" y="723.9" width="21" height="78.7" fill="url(#rML)"/><rect x="650.2" y="802.6" width="21" height="26.8" fill="url(#rL)"/>
<rect x="697.8" y="671.9" width="21" height="14.2" fill="url(#rCM)"/><rect x="697.8" y="686.1" width="21" height="14.2" fill="#f9a0a0"/><rect x="697.8" y="700.3" width="21" height="42.5" fill="url(#rML)"/><rect x="697.8" y="742.8" width="21" height="86.6" fill="url(#rL)"/>
<rect x="729.6" y="671.9" width="21" height="53.5" fill="#f9a0a0"/><rect x="729.6" y="725.4" width="21" height="66.2" fill="url(#rML)"/><rect x="729.6" y="791.6" width="21" height="37.8" fill="url(#rL)"/>
<rect x="761.3" y="671.9" width="21" height="15.8" fill="#f9a0a0"/><rect x="761.3" y="687.7" width="21" height="78.7" fill="url(#rML)"/><rect x="761.3" y="766.4" width="21" height="63" fill="url(#rL)"/>
<rect x="885.6" y="678.1" width="21" height="12.8" fill="url(#bC)"/><rect x="885.6" y="690.9" width="21" height="79.8" fill="#c6dbf4"/><rect x="885.6" y="770.7" width="21" height="67" fill="url(#bML)"/>
<rect x="917.4" y="678.1" width="21" height="14.4" fill="url(#bC)"/><rect x="917.4" y="692.5" width="21" height="14.3" fill="url(#bCM)"/><rect x="917.4" y="706.8" width="21" height="84.6" fill="#c6dbf4"/><rect x="917.4" y="791.4" width="21" height="43.1" fill="url(#bML)"/><rect x="917.4" y="834.5" width="21" height="3.2" fill="url(#bL)"/>
<rect x="949.1" y="678.1" width="21" height="43.1" fill="#c6dbf4"/><rect x="949.1" y="721.2" width="21" height="73.4" fill="url(#bML)"/><rect x="949.1" y="794.6" width="21" height="43.1" fill="url(#bL)"/>
<rect x="995.7" y="678.1" width="21" height="9.6" fill="url(#bC)"/><rect x="995.7" y="687.7" width="21" height="44.7" fill="#c6dbf4"/><rect x="995.7" y="732.4" width="21" height="70.2" fill="url(#bML)"/><rect x="995.7" y="802.6" width="21" height="35.1" fill="url(#bL)"/>
<rect x="1027.4" y="678.1" width="21" height="6.4" fill="url(#bC)"/><rect x="1027.4" y="684.5" width="21" height="71.8" fill="#c6dbf4"/><rect x="1027.4" y="756.3" width="21" height="63.8" fill="url(#bML)"/><rect x="1027.4" y="820.1" width="21" height="17.6" fill="url(#bL)"/>
<rect x="1060.2" y="678.1" width="21" height="36.7" fill="#c6dbf4"/><rect x="1060.2" y="714.8" width="21" height="65.4" fill="url(#bML)"/><rect x="1060.2" y="780.2" width="21" height="57.5" fill="url(#bL)"/>
<rect x="1106.8" y="678.1" width="21" height="14.4" fill="#c6dbf4"/><rect x="1106.8" y="692.5" width="21" height="71.8" fill="url(#bML)"/><rect x="1106.8" y="764.3" width="21" height="73.4" fill="url(#bL)"/>
<rect x="1138.5" y="678.1" width="21" height="30.3" fill="#c6dbf4"/><rect x="1138.5" y="708.4" width="21" height="70.3" fill="url(#bML)"/><rect x="1138.5" y="778.7" width="21" height="59" fill="url(#bL)"/>
<rect x="1171.3" y="678.1" width="21" height="11.2" fill="#c6dbf4"/><rect x="1171.3" y="689.3" width="21" height="57.4" fill="url(#bML)"/><rect x="1171.3" y="746.7" width="21" height="91" fill="url(#bL)"/>
</g>
<g fill="none" stroke="#666" stroke-width="1.3">
<rect x="474.6" y="671.9" width="21" height="157.5"/><rect x="506.3" y="671.9" width="21" height="157.5"/><rect x="538.1" y="671.9" width="21" height="157.5"/><rect x="586.8" y="671.9" width="21" height="157.5"/><rect x="618.5" y="671.9" width="21" height="157.5"/><rect x="650.2" y="671.9" width="21" height="157.5"/><rect x="697.8" y="671.9" width="21" height="157.5"/><rect x="729.6" y="671.9" width="21" height="157.5"/><rect x="761.3" y="671.9" width="21" height="157.5"/>
<rect x="885.6" y="678.1" width="21" height="159.6"/><rect x="917.4" y="678.1" width="21" height="159.6"/><rect x="949.1" y="678.1" width="21" height="159.6"/><rect x="995.7" y="678.1" width="21" height="159.6"/><rect x="1027.4" y="678.1" width="21" height="159.6"/><rect x="1060.2" y="678.1" width="21" height="159.6"/><rect x="1106.8" y="678.1" width="21" height="159.6"/><rect x="1138.5" y="678.1" width="21" height="159.6"/><rect x="1171.3" y="678.1" width="21" height="159.6"/>
</g>
<g stroke="#000" stroke-width="1.4" fill="none">
<path d="M464,671.9V829.4 M460,671.9H464 M460,703.4H464 M460,734.9H464 M460,766.4H464 M460,797.9H464 M460,829.4H464"/>
<path d="M874,678.1V837.7 M870,678.1H874 M870,710H874 M870,741.9H874 M870,773.9H874 M870,805.8H874 M870,837.7H874"/>
<path stroke-width="2" d="M464,829.4H569.8 M575.1,829.4H680.9 M686.2,829.4H793.1 M874,837.7H980.9 M985.1,837.7H1092 M1096.2,837.7H1203"/>
<path d="M485.1,830V836 M516.8,830V836 M548.6,830V836 M597.3,830V836 M629,830V836 M660.7,830V836 M708.3,830V836 M740.1,830V836 M771.8,830V836"/>
<path d="M896.1,838V844 M927.9,838V844 M959.6,838V844 M1006.2,838V844 M1037.9,838V844 M1070.7,838V844 M1117.3,838V844 M1149,838V844 M1181.8,838V844"/>
</g>
<g font-size="10.5" font-weight="bold" text-anchor="end">
<text x="458" y="675.7">100</text><text x="458" y="707.2">80</text><text x="458" y="738.7">60</text><text x="458" y="770.2">40</text><text x="458" y="801.7">20</text><text x="458" y="833.2">0</text>
<text x="868" y="681.9">100</text><text x="868" y="713.8">80</text><text x="868" y="745.7">60</text><text x="868" y="777.7">40</text><text x="868" y="809.6">20</text><text x="868" y="841.5">0</text>
</g>
<text transform="translate(428,749) rotate(-90)" font-size="12.5" text-anchor="middle">%Frequency</text>
<text transform="translate(838,756) rotate(-90)" font-size="12.5" text-anchor="middle">%Frequency</text>
<g font-size="10" font-style="italic" text-anchor="end">
<text transform="translate(488.1,840) rotate(-55)">krit1+/+</text><text transform="translate(519.8,840) rotate(-55)">krit1+/-</text><text transform="translate(551.6,840) rotate(-55)">krit1-/-</text>
<text transform="translate(600.3,840) rotate(-55)">krit1+/+</text><text transform="translate(632,840) rotate(-55)">krit1+/-</text><text transform="translate(663.7,840) rotate(-55)">krit1-/-</text>
<text transform="translate(711.3,840) rotate(-55)">krit1+/+</text><text transform="translate(743.1,840) rotate(-55)">krit1+/-</text><text transform="translate(774.8,840) rotate(-55)">krit1-/-</text>
<text transform="translate(899.1,848) rotate(-60)">krit1+/+</text><text transform="translate(930.9,848) rotate(-60)">krit1+/-</text><text transform="translate(962.6,848) rotate(-60)">krit1-/-</text>
<text transform="translate(1009.2,848) rotate(-60)">krit1+/+</text><text transform="translate(1040.9,848) rotate(-60)">krit1+/-</text><text transform="translate(1073.7,848) rotate(-60)">krit1-/-</text>
<text transform="translate(1120.3,848) rotate(-60)">krit1+/+</text><text transform="translate(1152,848) rotate(-60)">krit1+/-</text><text transform="translate(1184.8,848) rotate(-60)">krit1-/-</text>
</g>
<g stroke="#666" stroke-width="1.3">
<rect x="486" y="893.5" width="16" height="14" fill="url(#rC)"/><rect x="551" y="893.5" width="16" height="14" fill="url(#rCM)"/><rect x="617" y="893.5" width="16" height="14" fill="#f9a0a0"/><rect x="682" y="893.5" width="16" height="14" fill="url(#rML)"/><rect x="748" y="893.5" width="16" height="14" fill="url(#rL)"/>
<rect x="887" y="892.5" width="16" height="14" fill="url(#bC)"/><rect x="952" y="892.5" width="16" height="14" fill="url(#bCM)"/><rect x="1017" y="892.5" width="16" height="14" fill="#c6dbf4"/><rect x="1082" y="892.5" width="16" height="14" fill="url(#bML)"/><rect x="1147" y="892.5" width="16" height="14" fill="url(#bL)"/>
</g>
<g font-size="13">
<text x="510" y="905">C</text><text x="575" y="905">C-M</text><text x="641" y="905">M</text><text x="706" y="905">M-L</text><text x="772" y="905">L</text>
<text x="910" y="904">C</text><text x="975" y="904">C-M</text><text x="1040" y="904">M</text><text x="1105" y="904">M-L</text><text x="1170" y="904">L</text>
</g>

<!-- panel g -->
<text x="418" y="967" font-size="18" font-weight="bold">g</text>
<g font-size="11.5" text-anchor="middle">
<text x="646" y="954"><tspan font-style="italic">krit1<tspan font-size="7" dy="-4">-/-</tspan></tspan><tspan dy="4"> cell expands &amp; migrates axially</tspan></text>
<text x="1094.6" y="951.5"><tspan font-style="italic">krit1<tspan font-size="7" dy="-4">-/-</tspan></tspan><tspan dy="4"> cell continues to expand</tspan></text>
<text x="651" y="971">2-3 dpf</text><text x="1097" y="971">3-4 dpf</text>
</g>
<g fill="none" stroke-width="3">
<path d="M597,981 A22,15 0 0,1 553,974 A22,15 0 0,1 597,981" stroke="#f47c7c"/>
<path d="M597,981 A22,15 0 0,1 556,985" stroke="#888"/>
<path d="M743,982 A23,15 0 0,1 716,993 A23,15 0 1,1 743,982" stroke="#f47c7c"/>
<path d="M743,982 A23,15 0 0,1 716,993" stroke="#888"/>
<path d="M1045,983 A24,16 0 0,1 1017,995 A24,16 0 1,1 1045,983" stroke="#f47c7c"/>
<path d="M1045,983 A24,16 0 0,1 1017,995" stroke="#888"/>
<path d="M1195,981 A30,20 0 0,1 1162,999 A30,20 0 1,1 1195,981" stroke="#f47c7c"/>
<path d="M1195,981 A30,20 0 0,1 1162,999" stroke="#888"/>
</g>
<g>
<ellipse cx="551.3" cy="973.7" rx="3.5" ry="4.5" fill="#f47c7c"/><ellipse cx="597.3" cy="981.7" rx="3.5" ry="4.5" fill="#777"/>
<ellipse cx="716.4" cy="992" rx="3.5" ry="4.5" fill="#f47c7c"/><ellipse cx="742.8" cy="981.7" rx="3.5" ry="4.5" fill="#777"/>
<ellipse cx="1016.8" cy="993" rx="3.5" ry="4.5" fill="#f47c7c"/><ellipse cx="1045.4" cy="982.7" rx="3.5" ry="4.5" fill="#777"/>
<ellipse cx="1161.8" cy="997" rx="3.5" ry="4.5" fill="#f47c7c"/><ellipse cx="1195" cy="981" rx="3.5" ry="4.5" fill="#777"/>
</g>
<g stroke="#222" stroke-width="1.6" fill="#222">
<line x1="611.6" y1="978" x2="680" y2="978"/><polygon points="684,978 677,974.5 677,981.5" stroke="none"/>
<line x1="1057.6" y1="978.6" x2="1126" y2="978.6"/><polygon points="1130,978.6 1123,975 1123,982" stroke="none"/>
</g>
<g font-size="13" font-weight="bold" text-anchor="middle">
<text x="594.7" y="1013">aISV Radial Axis 2-3 dpf</text><text x="1031.1" y="1013">aISV Radial Axis 3-4 dpf</text>
</g>
<g stroke="#ef4f4f" stroke-width="0.9">
<rect x="482.5" y="1100.4" width="11.7" height="10.4" fill="#ffc27a"/><rect x="505.3" y="1110.8" width="11.7" height="33.8" fill="#fba0a0"/><rect x="528.6" y="1110.8" width="11.7" height="23.4" fill="#999"/>
<rect x="564" y="1050.9" width="11.7" height="59.9" fill="#ffc27a"/><rect x="587.3" y="1110.8" width="11.7" height="54.7" fill="#fba0a0"/><rect x="610.5" y="1110.8" width="11.7" height="7.8" fill="#999"/>
<rect x="646" y="1110.8" width="11.7" height="33.8" fill="#ffc27a"/><rect x="669.3" y="1082.2" width="11.7" height="28.6" fill="#fba0a0"/><rect x="692" y="1110.8" width="11.7" height="10.4" fill="#999"/>
<rect x="924.3" y="1110.8" width="10.6" height="21" fill="#ffc27a"/><rect x="946.5" y="1110.8" width="10.6" height="21" fill="#fba0a0"/><rect x="968.2" y="1110.8" width="10.6" height="39.3" fill="#999"/>
<rect x="1003" y="1110.8" width="10.6" height="18.4" fill="#ffc27a"/><rect x="1024.8" y="1110.8" width="10.6" height="36.7" fill="#fba0a0"/><rect x="1047" y="1110.8" width="10.6" height="52.4" fill="#999"/>
<rect x="1081.4" y="1105.6" width="10.6" height="5.2" fill="#ffc27a"/><rect x="1103.6" y="1082" width="10.6" height="28.8" fill="#fba0a0"/><rect x="1125.3" y="1074.1" width="10.6" height="36.7" fill="#999"/>
<rect x="753.4" y="1038.4" width="14.8" height="10" fill="#ffc27a"/><rect x="753.4" y="1059.3" width="14.8" height="10" fill="#fba0a0"/><rect x="753.4" y="1079.8" width="14.8" height="10" fill="#999"/>
</g>
<g font-size="12"><text x="778" y="1047.5">Cell Num</text><text x="778" y="1068.5">aEC</text><text x="778" y="1089">aISV</text></g>
<g stroke="#000" stroke-width="1.4" fill="none">
<path d="M471.4,1032.7V1188.8 M467.4,1032.7H471.4 M467.4,1058.7H471.4 M467.4,1084.8H471.4 M467.4,1110.8H471.4 M467.4,1136.8H471.4 M467.4,1162.9H471.4 M467.4,1188.8H471.4"/>
<path stroke-width="2" d="M464,1110.8H718 M471.4,1188.8H718"/>
<path d="M511,1189V1196 M593,1189V1196 M674.6,1189V1196"/>
<path d="M913.7,1031.9V1189.2 M909.7,1031.9H913.7 M909.7,1058.1H913.7 M909.7,1084.6H913.7 M909.7,1110.8H913.7 M909.7,1137H913.7 M909.7,1163.2H913.7 M909.7,1189.2H913.7"/>
<path stroke-width="2" d="M906.8,1110.8H1150 M913.7,1189.2H1150"/>
<path d="M951.8,1189.5V1196 M1030,1189.5V1196 M1109.4,1189.5V1196"/>
</g>
<g font-size="10.5" font-weight="bold" text-anchor="end">
<text x="465.5" y="1036.5">0.3</text><text x="465.5" y="1062.5">0.2</text><text x="465.5" y="1088.6">0.1</text><text x="465.5" y="1114.6">0.0</text><text x="465.5" y="1140.6">-0.1</text><text x="465.5" y="1166.7">-0.2</text><text x="465.5" y="1192.6">-0.3</text>
<text x="907.8" y="1035.7">0.3</text><text x="907.8" y="1061.9">0.2</text><text x="907.8" y="1088.4">0.1</text><text x="907.8" y="1114.6">0.0</text><text x="907.8" y="1140.8">-0.1</text><text x="907.8" y="1167">-0.2</text><text x="907.8" y="1193">-0.3</text>
</g>
<g font-size="10.5" text-anchor="middle">
<text x="488.9" y="1094.5">0.04</text><text x="511.6" y="1157.6">-0.13</text><text x="538" y="1147.2">-0.09</text><text x="569.8" y="1046.8">0.23</text><text x="593.1" y="1177.9">-0.21</text><text x="616.9" y="1131.9">-0.03</text><text x="652.9" y="1158">-0.13</text><text x="675.1" y="1077.5">0.11</text><text x="697.8" y="1133">-0.04</text>
<text x="930.6" y="1144">-0.08</text><text x="953.3" y="1151.4">-0.08</text><text x="975.6" y="1162.2">-0.15</text><text x="1008.9" y="1140.9">-0.07</text><text x="1031.1" y="1160.8">-0.14</text><text x="1053.3" y="1175.8">-0.20</text><text x="1087.7" y="1099.5">0.02</text><text x="1109.4" y="1076.7">0.11</text><text x="1131.6" y="1069.8">0.14</text>
</g>
<text transform="translate(434.5,1111) rotate(-90)" font-size="12.5" text-anchor="middle">Radial Strain</text>
<text transform="translate(878,1111) rotate(-90)" font-size="12.5" text-anchor="middle">Radial Strain</text>
<g font-size="10" font-style="italic" text-anchor="end">
<text transform="translate(514,1200) rotate(-60)">krit1<tspan font-size="7" dy="-4">+/+</tspan></text><text transform="translate(596,1200) rotate(-60)">krit1<tspan font-size="7" dy="-4">+/-</tspan></text><text transform="translate(677.6,1200) rotate(-60)">krit1<tspan font-size="7" dy="-4">-/-</tspan></text>
<text transform="translate(954.8,1200) rotate(-60)">krit1<tspan font-size="7" dy="-4">+/+</tspan></text><text transform="translate(1033,1200) rotate(-60)">krit1<tspan font-size="7" dy="-4">+/-</tspan></text><text transform="translate(1112.4,1200) rotate(-60)">krit1<tspan font-size="7" dy="-4">-/-</tspan></text>
</g>

<!-- panel h -->
<text x="418" y="1286" font-size="18" font-weight="bold">h</text>
<g font-size="11.5" text-anchor="middle">
<text x="663.5" y="1263.5"><tspan font-style="italic">krit1<tspan font-size="7" dy="-4">-/-</tspan></tspan><tspan dy="4"> cell expands &amp; more cells</tspan></text>
<text x="1094.6" y="1258.2"><tspan font-style="italic">krit1<tspan font-size="7" dy="-4">-/-</tspan></tspan><tspan dy="4"> cell continues to expand</tspan></text>
<text x="1094.6" y="1274.1">&amp; migrates axially</text>
<text x="652.4" y="1284.7">2-3 dpf</text><text x="1093.5" y="1301.2">3-4 dpf</text>
</g>
<g fill="none" stroke-width="3">
<path d="M565.6,1284 A24,15 0 0,1 610.6,1292" stroke="#1e90d8"/>
<path d="M610.6,1292 A24,15 0 0,1 565.6,1284" stroke="#888"/>
<path d="M695.2,1287 A32,18 0 0,1 730.6,1273.7" stroke="#1e90d8"/>
<path d="M730.6,1273.7 A32,18 0 0,1 756.5,1293" stroke="#6ec4ef"/>
<path d="M756.5,1293 A32,18 0 0,1 721.6,1309.6" stroke="#ffc080"/>
<path d="M721.6,1309.6 A32,18 0 0,1 695.2,1287" stroke="#888"/>
<path d="M984.6,1293 A30,19 0 0,1 1019,1278.7" stroke="#1e90d8"/>
<path d="M1019,1278.7 A30,19 0 0,1 1044.3,1300.8" stroke="#6ec4ef"/>
<path d="M1044.3,1300.8 A30,19 0 0,1 1010,1316.5" stroke="#ffc080"/>
<path d="M1010,1316.5 A30,19 0 0,1 984.6,1293" stroke="#888"/>
<path d="M1141.1,1293 A26,17 0 0,1 1192,1301.8" stroke="#1e90d8"/>
<path d="M1192,1301.8 A26,17 0 0,1 1141.1,1293" stroke="#888"/>
</g>
<g>
<ellipse cx="565.6" cy="1283.8" rx="3.5" ry="4.5" fill="#1e90d8"/><ellipse cx="610.6" cy="1292.3" rx="3.5" ry="4.5" fill="#777"/>
<ellipse cx="695.2" cy="1287" rx="3.5" ry="4.5" fill="#1e90d8"/><ellipse cx="730.6" cy="1273.3" rx="3.5" ry="4.5" fill="#6ec4ef"/><ellipse cx="756" cy="1295.5" rx="3.5" ry="4.5" fill="#ffc080"/><ellipse cx="721.6" cy="1310.3" rx="3.5" ry="4.5" fill="#777"/>
<ellipse cx="984.6" cy="1293" rx="3.5" ry="4.5" fill="#1e90d8"/><ellipse cx="1019" cy="1278.5" rx="3.5" ry="4.5" fill="#6ec4ef"/><ellipse cx="1044.3" cy="1300.8" rx="3.5" ry="4.5" fill="#ffc080"/><ellipse cx="1010" cy="1315" rx="3.5" ry="4.5" fill="#777"/>
<ellipse cx="1141.1" cy="1293" rx="3.5" ry="4.5" fill="#1e90d8"/><ellipse cx="1192.5" cy="1301.8" rx="3.5" ry="4.5" fill="#777"/>
</g>
<g stroke="#222" stroke-width="1.6" fill="#222">
<line x1="620" y1="1291.7" x2="678" y2="1291.7"/><polygon points="682,1291.7 675,1288 675,1295.4" stroke="none"/>
<line x1="1070.8" y1="1308.2" x2="1118" y2="1308.2"/><polygon points="1122.1,1308.2 1115,1304.5 1115,1311.9" stroke="none"/>
</g>
<g font-size="13" font-weight="bold" text-anchor="middle">
<text x="592" y="1333">vISV Radial Axis 2-3 dpf</text><text x="1032.2" y="1333">vISV Radial Axis 3-4 dpf</text>
</g>
<g stroke="#4fa0f5" stroke-width="0.9">
<rect x="484.1" y="1429.8" width="11.6" height="21.7" fill="#ffc27a"/><rect x="506.3" y="1451.5" width="11.6" height="33.5" fill="#8fbef5"/><rect x="528.6" y="1451.5" width="11.6" height="15.8" fill="#999"/>
<rect x="563" y="1374.7" width="11.6" height="76.8" fill="#ffc27a"/><rect x="585.2" y="1451.5" width="11.6" height="25.6" fill="#8fbef5"/><rect x="607.4" y="1410.1" width="11.6" height="41.4" fill="#999"/>
<rect x="641.2" y="1435.7" width="11.6" height="15.8" fill="#ffc27a"/><rect x="663.5" y="1435.7" width="11.6" height="15.8" fill="#8fbef5"/><rect x="685.7" y="1418" width="11.6" height="33.5" fill="#999"/>
<rect x="924.3" y="1432" width="10.6" height="7.9" fill="#ffc27a"/><rect x="946.5" y="1432" width="10.6" height="2.6" fill="#8fbef5"/><rect x="968.2" y="1432" width="10.6" height="10.5" fill="#999"/>
<rect x="1003" y="1432" width="10.6" height="31.6" fill="#ffc27a"/><rect x="1024.8" y="1432" width="10.6" height="34.2" fill="#8fbef5"/><rect x="1047" y="1432" width="10.6" height="63.2" fill="#999"/>
<rect x="1081.4" y="1432" width="10.6" height="50" fill="#ffc27a"/><rect x="1103.6" y="1400.4" width="10.6" height="31.6" fill="#8fbef5"/><rect x="1125.3" y="1432" width="10.6" height="23.7" fill="#999"/>
<rect x="745.5" y="1358.2" width="13.7" height="10" fill="#ffc27a"/><rect x="745.5" y="1377.7" width="13.7" height="10" fill="#8fbef5"/><rect x="745.5" y="1398.4" width="13.7" height="10" fill="#999"/>
</g>
<g font-size="12"><text x="769" y="1367.3">Cell Num</text><text x="769" y="1386.8">vEC</text><text x="769" y="1407.5">vISV</text></g>
<g stroke="#000" stroke-width="1.4" fill="none">
<path d="M473,1353V1510.4 M469,1353H473 M469,1372.7H473 M469,1392.4H473 M469,1412.1H473 M469,1431.8H473 M469,1451.5H473 M469,1471.2H473 M469,1490.9H473"/>
<path stroke-width="2" d="M473,1451.5H709.5 M473,1510.4H709.5"/>
<path d="M511.6,1510.5V1517 M590.5,1510.5V1517 M669.3,1510.5V1517"/>
<path d="M913.2,1353V1511 M909.2,1353H913.2 M909.2,1379.3H913.2 M909.2,1405.7H913.2 M909.2,1432H913.2 M909.2,1458.3H913.2 M909.2,1484.7H913.2 M909.2,1511H913.2"/>
<path stroke-width="2" d="M906.8,1432H1150 M913.2,1511H1150"/>
<path d="M951.8,1511V1517 M1030,1511V1517 M1109.4,1511V1517"/>
</g>
<g font-size="10.5" font-weight="bold" text-anchor="end">
<text x="467" y="1356.8">0.5</text><text x="467" y="1376.5">0.4</text><text x="467" y="1396.2">0.3</text><text x="467" y="1415.9">0.2</text><text x="467" y="1435.6">0.1</text><text x="467" y="1455.3">0.0</text><text x="467" y="1475">-0.1</text><text x="467" y="1494.7">-0.2</text>
<text x="907.2" y="1356.8">0.3</text><text x="907.2" y="1383.1">0.2</text><text x="907.2" y="1409.5">0.1</text><text x="907.2" y="1435.8">0.0</text><text x="907.2" y="1462.1">-0.1</text><text x="907.2" y="1488.5">-0.2</text><text x="907.2" y="1514.8">-0.3</text>
</g>
<g font-size="10.5" text-anchor="middle">
<text x="490.5" y="1424.4">0.11</text><text x="513.7" y="1497.4">-0.17</text><text x="534.9" y="1479">-0.08</text><text x="569.8" y="1369.3">0.39</text><text x="591" y="1489">-0.13</text><text x="613.2" y="1404.9">0.21</text><text x="643.4" y="1430.3">0.08</text><text x="669.8" y="1430.3">0.08</text><text x="691.5" y="1412.3">0.17</text>
<text x="930.6" y="1457.2">-0.03</text><text x="953.3" y="1446.6">-0.01</text><text x="975.6" y="1457.8">-0.04</text><text x="1004.7" y="1476.3">-0.12</text><text x="1033.8" y="1479.8">-0.13</text><text x="1053.8" y="1505.9">-0.24</text><text x="1088.2" y="1493.8">-0.19</text><text x="1109.4" y="1395.4">0.12</text><text x="1131.6" y="1467.8">-0.09</text>
</g>
<text transform="translate(440,1431) rotate(-90)" font-size="12.5" text-anchor="middle">Radial Strain</text>
<text transform="translate(879,1432) rotate(-90)" font-size="12.5" text-anchor="middle">Radial Strain</text>
<g font-size="10" font-style="italic" text-anchor="end">
<text transform="translate(514.6,1521) rotate(-60)">krit1<tspan font-size="7" dy="-4">+/+</tspan></text><text transform="translate(593.5,1521) rotate(-60)">krit1<tspan font-size="7" dy="-4">+/-</tspan></text><text transform="translate(672.3,1521) rotate(-60)">krit1<tspan font-size="7" dy="-4">-/-</tspan></text>
<text transform="translate(954.8,1521) rotate(-60)">krit1<tspan font-size="7" dy="-4">+/+</tspan></text><text transform="translate(1033,1521) rotate(-60)">krit1<tspan font-size="7" dy="-4">+/-</tspan></text><text transform="translate(1112.4,1521) rotate(-60)">krit1<tspan font-size="7" dy="-4">-/-</tspan></text>
</g>
</svg>
</body></html>
